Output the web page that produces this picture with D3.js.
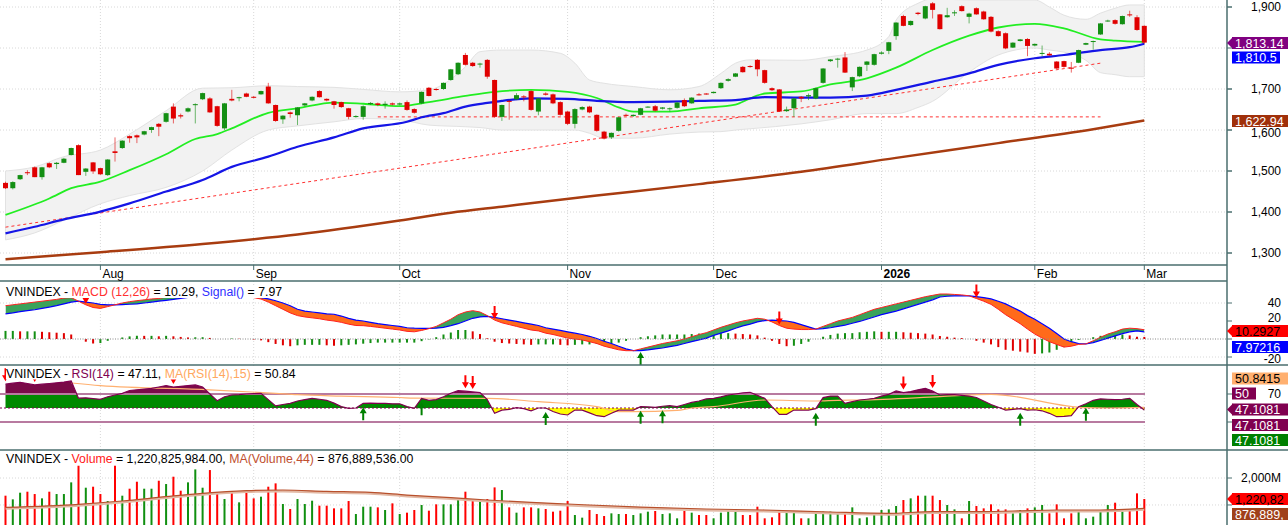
<!DOCTYPE html>
<html lang="en">
<head>
<meta charset="UTF-8">
<title>VNINDEX</title>
<style>
  body { margin: 0; background: #fff; }
  svg text { font-family: "Liberation Sans", Arial, sans-serif; }
</style>
</head>
<body>
<div id="chart"></div>
<script src="https://d3js.org/d3.v7.min.js"></script>
<script>
// ---- data (bar 0 = 15 Jul 2025 ... bar 156 = 2 Mar 2026) ----
const opens = [1471,1458,1480,1497,1509,1485,1519,1517,1520,1539,
 1563,1498,1521,1507,1490,1548,1556,1585,1587,1589,
 1600,1615,1620,1657,1636,1645,1661,1675,1677,1658,
 1604,1676,1678,1689,1681,1687,1706,1661,1626,1643,
 1636,1660,1672,1695,1676,1670,1668,1653,1632,1632,
 1663,1665,1661,1665,1662,1668,1651,1665,1703,1700,
 1700,1722,1736,1783,1764,1760,1771,1722,1632,1671,
 1675,1682,1695,1645,1689,1687,1668,1645,1615,1650,
 1657,1637,1596,1582,1598,1637,1634,1637,1656,1658,
 1652,1651,1654,1673,1665,1687,1689,1690,1702,1720,
 1730,1754,1756,1771,1746,1702,1699,1646,1653,1681,
 1682,1677,1715,1768,1772,1777,1704,1731,1759,1759,
 1786,1793,1829,1878,1856,1886,1872,1909,1882,1875,
 1885,1902,1876,1897,1889,1876,1841,1836,1801,1817,
 1822,1806,1786,1786,1767,1768,1752,1764,1808,1815,
 1833,1865,1868,1858,1882,1875,1854];
const highs = [1474,1475,1491,1502,1511,1510,1521,1522,1532,1557,
 1565,1507,1522,1508,1529,1582,1575,1587,1589,1598,
 1608,1617,1642,1665,1640,1655,1665,1691,1680,1659,
 1666,1698,1681,1691,1683,1696,1715,1662,1636,1645,
 1656,1666,1682,1697,1677,1671,1669,1654,1636,1660,
 1668,1667,1670,1667,1667,1672,1653,1694,1705,1702,
 1716,1749,1765,1788,1766,1764,1773,1723,1662,1673,
 1690,1685,1697,1678,1692,1689,1670,1647,1653,1658,
 1659,1638,1598,1594,1632,1640,1638,1654,1658,1661,
 1656,1655,1668,1677,1680,1690,1690,1694,1716,1726,
 1739,1756,1758,1773,1747,1704,1700,1657,1678,1683,
 1689,1703,1751,1773,1776,1790,1730,1755,1768,1786,
 1792,1815,1863,1881,1867,1888,1903,1912,1883,1898,
 1892,1904,1886,1899,1891,1878,1843,1838,1814,1822,
 1824,1811,1806,1790,1768,1769,1766,1796,1813,1818,
 1861,1869,1870,1879,1891,1880,1855];
const lows = [1456,1455,1478,1490,1485,1479,1507,1505,1519,1538,
 1490,1488,1493,1490,1488,1523,1554,1569,1568,1587,
 1593,1585,1618,1616,1628,1643,1616,1673,1642,1608,
 1600,1670,1670,1680,1677,1686,1664,1620,1615,1630,
 1612,1658,1670,1679,1670,1652,1654,1626,1630,1625,
 1661,1658,1652,1660,1660,1647,1640,1663,1682,1696,
 1698,1720,1734,1757,1754,1752,1725,1630,1622,1625,
 1673,1670,1647,1636,1684,1663,1635,1612,1604,1648,
 1641,1596,1577,1578,1596,1634,1632,1636,1655,1645,
 1650,1645,1652,1656,1664,1684,1686,1689,1700,1718,
 1729,1740,1752,1731,1713,1695,1644,1644,1632,1668,
 1673,1675,1713,1766,1752,1739,1695,1729,1744,1757,
 1784,1785,1820,1853,1854,1880,1870,1872,1845,1874,
 1878,1889,1860,1881,1869,1838,1828,1797,1800,1816,
 1780,1804,1780,1781,1749,1752,1740,1763,1807,1796,
 1832,1864,1857,1857,1876,1842,1810];
const closes = [1458,1473,1490,1495,1485,1509,1509,1520,1530,1556,
 1490,1506,1499,1492,1528,1544,1574,1580,1582,1597,
 1607,1608,1641,1628,1633,1653,1663,1690,1643,1610,
 1665,1672,1680,1681,1679,1695,1665,1622,1635,1639,
 1655,1665,1681,1680,1672,1661,1656,1632,1634,1658,
 1666,1661,1664,1662,1665,1649,1642,1693,1683,1698,
 1715,1748,1764,1759,1756,1762,1730,1632,1661,1669,
 1685,1680,1649,1677,1686,1665,1637,1615,1651,1656,
 1643,1598,1579,1593,1631,1636,1637,1653,1657,1647,
 1655,1653,1667,1658,1679,1685,1687,1693,1715,1724,
 1738,1741,1754,1748,1715,1697,1645,1650,1677,1677,
 1685,1702,1750,1772,1774,1740,1729,1754,1767,1785,
 1789,1814,1862,1854,1866,1883,1902,1893,1846,1880,
 1887,1890,1884,1882,1870,1840,1829,1799,1813,1821,
 1805,1810,1788,1782,1750,1754,1751,1795,1812,1817,
 1860,1867,1859,1878,1880,1844,1813.14];
// volume, millions of shares
const volumes = [1344,1208,1455,1492,1405,1245,1492,1405,1405,1838,
 2455,1640,1677,1405,1146,2455,1344,1603,1862,1603,
 1603,1899,1776,2048,1529,1838,2319,1640,2295,1467,
 1220,1492,1097,1467,1245,1307,1677,1801,1035,850,
 1220,1035,1158,973,973,874,874,1146,664,936,
 936,911,813,1060,664,714,813,998,788,1023,
 1023,1023,1220,1492,1146,1121,1220,1652,1554,911,
 714,911,911,874,850,751,788,1146,627,529,
 813,664,590,689,664,664,627,689,751,776,
 664,689,504,776,714,627,627,504,714,776,
 776,627,627,936,504,541,788,714,776,504,
 504,714,751,751,664,714,911,504,541,627,
 813,837,961,1183,1245,1344,1344,1344,1183,998,
 837,504,1146,961,874,1023,837,837,689,813,
 874,911,998,689,1023,504,689,788,504,566,
 788,998,1084,751,837,1430,1220.8];
const macd = [37,38,39,40,41,42,43,44,45.5,46,
 42,38,35,34,36,38,40,41.5,42.6,43.5,
 44.5,45,46.5,47,47.5,48,48.5,49,48.5,47.5,
 47.5,48,47.5,47,46,44.4,41,37,33,29,
 26,24.5,23.5,22.5,21,20,18.5,16.5,15,14.8,
 14,13,12,11,10,8.5,8,9.5,11.5,14,
 18,22,27,30,31.5,30,26,21,18,16,
 14,12,10,9,6.5,5,3,1,0,-1,
 -3,-5,-8,-10,-12,-13,-13,-11,-9,-7,
 -5,-3.5,-2,0,2.5,5,7,10,13,15.5,
 18,20,21.5,23,22,19,15,12,11,10.5,
 10.5,11,14,17,20,22,24,27,30,33,
 35,37,39,41,43,45,47,48.5,50,50,
 49.5,49,48,45,42,38.5,33,27,22,17,
 11,5.5,1,-3,-6,-9,-8,-6,-5.5,-2,
 2,5.5,8,11,12,11.5,10.29];
const signal = [28,29,30.5,31.5,32.5,34,35.5,37,39,41,
 42,41,40,38.5,38,38,38.3,38.6,39,40,
 41,42,43,44,45.2,46.3,46.6,47,47.3,47.5,
 47.5,47.5,47.2,47,46.6,45.9,44.5,42.5,40,37,
 33,31,30,29,28,27.5,25.5,23,21,20,
 18.5,17,16,15,14,12.5,12,11.9,11.9,12,
 13,14.8,17,20,23,24.5,25.2,24,22.5,21,
 19.5,18,16.5,15,12.5,11,9.5,8,6.5,5,
 3,0.5,-2.5,-5,-8,-11,-13,-13,-12,-11,
 -10,-8.5,-7,-5,-3,-1,1,4,6.5,9,
 12,14.5,16.5,19,20.5,21,20.5,20,18.5,16,
 13.5,11,11.5,12.5,14,15.5,17.5,19.5,22,24.5,
 27,29,31,33.5,36,38.5,41,43.5,46.7,47.5,
 48,48,48,47,46,44.5,42,39,35,31,
 26,22,17,12,6,0,-3,-5,-5.5,-4,
 -1.5,1,3.5,6,8,9,7.97];
const rsi = [84,85.5,86.7,85,83,84,85,86,87,88.6,
 64,64.5,63.5,62.4,66,68.6,71,75,76,77,
 78,80,82,80,81,82,83,80,70,60.4,
 66,68.6,69,70,70.5,71,62,53,55,56.7,
 60,62,63.8,62.5,61,57,52,49.6,50,56.7,
 57,56.7,56.5,56,56,52,49.6,63.8,61,62,
 66,71,74.7,74,73,72,62,42.4,47,48,
 50.4,49,46,50,50,45,41.4,40,47,47,
 43,39,37.6,42.4,47,47,47,51.9,51.5,51,
 52.5,53.3,51.9,55,58,60,63,63.8,66,68.6,
 70,71.5,72.4,68,63.8,51.9,41,41,47.1,47.1,
 47.1,49,64.8,67,67.1,56.7,59,61.4,62.5,63.8,
 67,69.5,74.3,72,73.5,76,78.1,74.3,68.6,69,
 69,68,67,65,60,55,51,47.1,48,49,
 47.1,47.5,46,42.4,37.6,38,39,51.9,56,61,
 62.9,62.5,62,62.5,63.8,55,47.11];

// smooth lines, read as [bar, value]
const ma20 = [[0,1393],[6,1433],[9,1458],[13,1474],[17,1502],[22,1541],[26,1578],[29,1590],[31,1604],[36,1642],[40,1653],[45,1667],[49,1664],[54,1658],[58,1668],[63,1683],[67,1693],[72,1698],[77,1693],[81,1678],[84,1655],[86,1645],[91,1645],[95,1653],[100,1662],[102,1677],[104,1689],[109,1694],[113,1711],[118,1726],[122,1752],[127,1795],[132,1830],[136,1850],[141,1859],[145,1848],[150,1821],[152,1818],[156,1815]];
const ma50 = [[0,1348],[4,1364],[8,1382],[13,1401],[17,1421],[22,1450],[27,1478],[31,1510],[36,1535],[40,1559],[45,1582],[49,1604],[55,1620],[57,1631],[60,1641],[63,1657],[66,1666],[68,1671],[72,1677],[77,1676],[81,1671],[86,1668],[91,1669],[95,1671],[100,1673],[104,1680],[109,1679],[113,1679],[118,1684],[122,1698],[127,1718],[132,1738],[136,1759],[141,1775],[145,1783],[150,1795],[154,1802],[156,1810.5]];
const ma200 = [[0,1285],[13,1302],[27,1322],[40,1345],[54,1379],[61,1398],[68,1413],[76,1430],[81,1440],[95,1468],[109,1498],[122,1532],[136,1568],[149,1602],[156,1622.94]];
const bbBars  = [0,4,8,13,17,22,27,31,36,40,45,49,54,58,63,65,68,72,76,78,80,82,86,91,95,98,100,102,109,113,118,121,122,125,127,132,136,141,143,145,148,150,152,154,156];
const bbUpper = [1500,1510,1535,1551,1590,1647,1702,1703,1708,1706,1704,1699,1693,1698,1754,1791,1795,1795,1787,1763,1722,1714,1706,1698,1706,1738,1763,1771,1770,1779,1795,1828,1868,1909,1920,1917,1917,1917,1900,1880,1870,1885,1897,1905,1905];
const bbLower = [1332,1349,1380,1420,1440,1460,1500,1551,1600,1610,1620,1628,1625,1612,1608,1606,1600,1600,1600,1600,1592,1580,1580,1590,1595,1596,1600,1603,1615,1625,1640,1640,1640,1655,1670,1741,1783,1800,1795,1790,1770,1740,1735,1730,1730];
const trendUp = [[0,1363],[150,1763]];
const trendFlat = [[51,1632],[150,1632]];
const rsiMa = [[9,85.7],[13,82],[28,76],[37,71],[40,69],[46,67],[54,65],[56,64],[66,63.8],[73,59],[81,52],[84,44.7],[86,44.7],[92,46.5],[94,50],[97,52],[104,61.4],[111,60],[114,61],[117,61.4],[128,66.2],[135,69.5],[148,50.4],[151,50],[156,50.84]];
const volMa = [[0,911],[10,1023],[16,1146],[22,1307],[27,1430],[33,1529],[38,1554],[44,1504],[50,1467],[55,1368],[61,1270],[66,1183],[72,1097],[77,1035],[87,920],[96,850],[104,813],[113,738],[121,689],[127,751],[133,751],[138,776],[144,813],[150,813],[156,876.9]];

const monthLabels = ["Aug","Sep","Oct","Nov","Dec","2026","Feb","Mar"];
const monthBars = [13,34,54,77,97,120,141,156];
const priceTicks = [1300,1400,1500,1600,1700,1800,1900];
const priceLabels = [1300,1400,1500,1600,1700,1900];
const macdSellBars = [11,67,106,133];
const macdBuyBars = [87];
const rsiSellBars = [0,4,23,63,64,123,127];
const rsiBuyBars = [49,57,74,87,90,111,139,148];

// ---- layout ----
const W = 1288, H = 525, plotR = 1227;
const svg = d3.select("#chart").append("svg").attr("width", W).attr("height", H);
const x = d3.scaleLinear().domain([0, 156]).range([5.5, 1144.3]);
const yP = d3.scaleLinear().domain([1300, 1900]).range([253, 7]);
const yM = d3.scaleLinear().domain([-20, 40]).range([357, 303]);
const yR = d3.scaleLinear().domain([30, 70]).range([422, 394]);
const yV = d3.scaleLinear().domain([405, 2000]).range([521, 478]);
const idx = d3.range(closes.length);
const green = "#138f13", red = "#e00000";

const defs = svg.append("defs");
function clip(id, y0, y1) {
  defs.append("clipPath").attr("id", id).append("rect")
    .attr("x", 0).attr("y", y0).attr("width", plotR).attr("height", y1 - y0);
  return svg.append("g").attr("clip-path", `url(#${id})`);
}

// gridlines
const grid = svg.append("g").attr("stroke", "#d8d8d8").attr("stroke-dasharray", "1,2");
priceTicks.forEach(v => grid.append("line").attr("x1", 0).attr("x2", plotR).attr("y1", yP(v)).attr("y2", yP(v)));
[40, -20].forEach(v => grid.append("line").attr("x1", 0).attr("x2", plotR).attr("y1", yM(v)).attr("y2", yM(v)));
[1000, 2000].forEach(v => grid.append("line").attr("x1", 0).attr("x2", plotR).attr("y1", yV(v)).attr("y2", yV(v)));
monthBars.forEach(b => {
  grid.append("line").attr("x1", x(b)).attr("x2", x(b)).attr("y1", 0).attr("y2", 265);
  grid.append("line").attr("x1", x(b)).attr("x2", x(b)).attr("y1", 281).attr("y2", H);
});

// ---- price panel ----
const gP = clip("cp", 0, 265);
const band = d3.area().x((d, i) => x(bbBars[i])).y0((d, i) => yP(bbLower[i])).y1(d => yP(d)).curve(d3.curveMonotoneX);
gP.append("path").datum(bbUpper).attr("d", band).attr("fill", "#f2f2f2").attr("stroke", "#e2e2e2");
const pline = d3.line().x(d => x(d[0])).y(d => yP(d[1])).curve(d3.curveMonotoneX);
gP.append("path").datum(trendUp).attr("d", pline).attr("fill", "none").attr("stroke", "#ff3030").attr("stroke-dasharray", "3,3");
gP.append("path").datum(trendFlat).attr("d", pline).attr("fill", "none").attr("stroke", "#ff3030").attr("stroke-dasharray", "3,3");
gP.append("path").datum(ma200).attr("d", pline).attr("fill", "none").attr("stroke", "#a83c10").attr("stroke-width", 2.5);
gP.append("path").datum(ma20).attr("d", pline).attr("fill", "none").attr("stroke", "#22ee22").attr("stroke-width", 1.8);
gP.append("path").datum(ma50).attr("d", pline).attr("fill", "none").attr("stroke", "#1515e6").attr("stroke-width", 2.2);

const candle = gP.selectAll(".c").data(idx).enter().append("g");
candle.append("line")
  .attr("x1", i => x(i)).attr("x2", i => x(i))
  .attr("y1", i => yP(highs[i])).attr("y2", i => yP(lows[i]))
  .attr("stroke", i => closes[i] >= opens[i] ? green : red).attr("stroke-opacity", 0.6);
candle.append("rect")
  .attr("x", i => x(i) - 2.5).attr("width", 5)
  .attr("y", i => yP(Math.max(opens[i], closes[i])))
  .attr("height", i => Math.max(1, Math.abs(yP(opens[i]) - yP(closes[i]))))
  .attr("fill", i => closes[i] >= opens[i] ? green : red);

// ---- MACD panel ----
const gM = clip("cm", 281, 365);
svg.append("line").attr("x1", 0).attr("x2", plotR).attr("y1", yM(0)).attr("y2", yM(0))
  .attr("stroke", "#888").attr("stroke-dasharray", "1,1.5");
const hist = idx.map(i => macd[i] - signal[i]);
gM.selectAll(".h").data(idx).enter().append("rect")
  .attr("x", i => x(i) - 1).attr("width", 2)
  .attr("y", i => Math.min(yM(0), yM(hist[i])))
  .attr("height", i => Math.abs(yM(hist[i]) - yM(0)))
  .attr("fill", i => (i > 0 && hist[i] < hist[i - 1]) ? red : green);
defs.append("clipPath").attr("id", "above").append("path")
  .datum(idx).attr("d", d3.area().x(i => x(i)).y0(281).y1(i => yM(signal[i])));
defs.append("clipPath").attr("id", "below").append("path")
  .datum(idx).attr("d", d3.area().x(i => x(i)).y0(365).y1(i => yM(signal[i])));
const macdBand = d3.area().x(i => x(i)).y0(i => yM(signal[i])).y1(i => yM(macd[i]));
gM.append("g").attr("clip-path", "url(#above)").append("path").datum(idx).attr("d", macdBand).attr("fill", "#3aa35a");
gM.append("g").attr("clip-path", "url(#below)").append("path").datum(idx).attr("d", macdBand).attr("fill", "#ff6a1a");
gM.append("path").datum(idx).attr("d", d3.line().x(i => x(i)).y(i => yM(signal[i]))).attr("fill", "none").attr("stroke", "#0000ff").attr("stroke-width", 1.2);
gM.append("path").datum(idx).attr("d", d3.line().x(i => x(i)).y(i => yM(macd[i]))).attr("fill", "none").attr("stroke", "#ff2020").attr("stroke-width", 1);

function arrow(g, cx, tip, dir, color) {
  const s = dir; // 1 = down, -1 = up
  g.append("path").attr("fill", color)
    .attr("d", `M${cx - 1},${tip - s * 13}L${cx + 1},${tip - s * 13}L${cx + 1},${tip - s * 6}L${cx + 3.5},${tip - s * 6}L${cx},${tip}L${cx - 3.5},${tip - s * 6}L${cx - 1},${tip - s * 6}Z`);
}
macdSellBars.forEach(b => arrow(gM, x(b), yM(macd[b]) - 1, 1, "#ff0000"));
macdBuyBars.forEach(b => arrow(gM, x(b), yM(macd[b]) + 3, -1, "#008000"));

// ---- RSI panel ----
const gR = clip("cr", 365, 450);
defs.append("clipPath").attr("id", "r70").append("rect").attr("x", 0).attr("y", 365).attr("width", plotR).attr("height", yR(70) - 365);
defs.append("clipPath").attr("id", "r50").append("rect").attr("x", 0).attr("y", yR(70)).attr("width", plotR).attr("height", yR(50) - yR(70));
defs.append("clipPath").attr("id", "rlo").append("rect").attr("x", 0).attr("y", yR(50)).attr("width", plotR).attr("height", 450 - yR(50));
const rsiArea = d3.area().x(i => x(i)).y0(yR(50)).y1(i => yR(rsi[i]));
[["r70", "#7a0a48"], ["r50", "#008a00"], ["rlo", "#ffff00"]].forEach(([c, f]) =>
  gR.append("g").attr("clip-path", `url(#${c})`).append("path").datum(idx).attr("d", rsiArea).attr("fill", f));
[70, 30].forEach(v => gR.append("line").attr("x1", 0).attr("x2", 1145).attr("y1", yR(v)).attr("y2", yR(v)).attr("stroke", "#b87aa0").attr("stroke-width", 2));
gR.append("line").attr("x1", 0).attr("x2", 1145).attr("y1", yR(50)).attr("y2", yR(50)).attr("stroke", "#800050").attr("stroke-dasharray", "2,2");
gR.append("path").datum(rsiMa).attr("d", d3.line().x(d => x(d[0])).y(d => yR(d[1])).curve(d3.curveMonotoneX))
  .attr("fill", "none").attr("stroke", "#ffb070").attr("stroke-width", 1.2);
gR.append("path").datum(idx).attr("d", d3.line().x(i => x(i)).y(i => yR(rsi[i]))).attr("fill", "none").attr("stroke", "#800050").attr("stroke-width", 1.2);
rsiSellBars.forEach(b => arrow(gR, x(b), yR(rsi[b]) - 3, 1, "#ff0000"));
rsiBuyBars.forEach(b => arrow(gR, x(b), yR(rsi[b]) + 4, -1, "#008000"));

// ---- volume panel ----
const gV = clip("cv", 450, 525);
gV.selectAll(".v").data(idx).enter().append("rect")
  .attr("x", i => x(i) - 1).attr("width", 2)
  .attr("y", i => yV(volumes[i])).attr("height", i => 521 - yV(volumes[i]) + 4)
  .attr("fill", i => closes[i] >= opens[i] ? "#109010" : "#ff0000");
const vline = d3.line().x(d => x(d[0])).y(d => yV(d[1])).curve(d3.curveMonotoneX);
gV.append("path").datum(volMa).attr("d", vline).attr("transform", "translate(0,1.2)")
  .attr("fill", "none").attr("stroke", "#e2b8a4").attr("stroke-width", 2.4);
gV.append("path").datum(volMa).attr("d", vline)
  .attr("fill", "none").attr("stroke", "#b8502c").attr("stroke-width", 1.2);

// ---- titles ----
function title(y, parts) {
  const g = svg.append("g");
  const r = g.append("rect").attr("fill", "#fff");
  const t = g.append("text").attr("x", 6).attr("y", y).style("font-size", "12.3px");
  parts.forEach(([s, c]) => t.append("tspan").attr("fill", c).text(s));
  const bb = t.node().getBBox();
  r.attr("x", bb.x).attr("y", bb.y).attr("width", bb.width + 2).attr("height", bb.height - 1);
}
title(296, [["VNINDEX - ", "#000"], ["MACD (12,26)", "#ff3030"], [" = 10.29, ", "#000"], ["Signal()", "#3030ff"], [" = 7.97", "#000"]]);
title(377.5, [["VNINDEX - ", "#000"], ["RSI(14)", "#800050"], [" = 47.11, ", "#000"], ["MA(RSI(14),15)", "#ffa860"], [" = 50.84", "#000"]]);
title(462.5, [["VNINDEX - ", "#000"], ["Volume", "#ff2020"], [" = 1,220,825,984.00, ", "#000"], ["MA(Volume,44)", "#c05030"], [" = 876,889,536.00", "#000"]]);

// ---- frame ----
const frame = svg.append("g").attr("stroke", "#4a6e6e");
frame.append("line").attr("x1", plotR).attr("x2", plotR).attr("y1", 0).attr("y2", H).attr("stroke-width", 1.5);
frame.append("line").attr("x1", 0).attr("x2", plotR).attr("y1", 265).attr("y2", 265).attr("stroke-width", 1.5);
frame.append("line").attr("x1", 0).attr("x2", plotR).attr("y1", 281).attr("y2", 281).attr("stroke-width", 1.5);
frame.append("line").attr("x1", 0).attr("x2", W).attr("y1", 365).attr("y2", 365).attr("stroke-width", 1.5);
frame.append("line").attr("x1", 0).attr("x2", W).attr("y1", 450).attr("y2", 450).attr("stroke-width", 1.5);

// month axis
const ax = svg.append("g");
monthBars.forEach((b, k) => {
  ax.append("line").attr("x1", x(b)).attr("x2", x(b)).attr("y1", 265).attr("y2", 270).attr("stroke", "#4a6e6e");
  ax.append("text").attr("x", x(b) + 2).attr("y", 278).style("font-size", "12px")
    .style("font-weight", monthLabels[k] === "2026" ? "bold" : "normal").text(monthLabels[k]);
});

// right axis labels (the ones hidden behind value tags are not drawn)
function ytick(y) {
  svg.append("line").attr("x1", plotR).attr("x2", plotR + 5).attr("y1", y).attr("y2", y).attr("stroke", "#4a6e6e");
}
function ylab(y, s, dy) {
  ytick(y);
  svg.append("text").attr("x", 1281).attr("y", y + 4 + (dy || 0)).attr("text-anchor", "end").style("font-size", "12px").text(s);
}
priceTicks.forEach(v => ytick(yP(v)));
priceLabels.forEach(v => ylab(yP(v), d3.format(",")(v), v === 1600 ? 3 : 0));
ylab(yM(40), "40"); ylab(yM(20), "20", -3); ylab(yM(-20), "-20", 2);
ytick(yM(0)); ytick(yR(30)); ytick(yV(1000));
ylab(yR(70), "70");
ylab(yV(2000), "2,000M");

function tag(yc, s, fill, tc, pointer, w) {
  const g = svg.append("g");
  const h = 12;
  g.append("rect").attr("x", 1232).attr("y", yc - h / 2).attr("width", w || 60).attr("height", h).attr("fill", fill);
  if (pointer) g.append("path").attr("d", `M${plotR},${yc}L1233,${yc - 6}L1233,${yc + 6}Z`).attr("fill", fill);
  g.append("text").attr("x", 1235).attr("y", yc + 4.5).style("font-size", "12.5px").attr("fill", tc).text(s);
}
tag(43, "1,813.14", "#800080", "#fff", true);
tag(57.5, "1,810.5", "#0000ff", "#fff", false, 48);
tag(121, "1,622.94", "#a0300a", "#fff", false);
tag(331, "10.2927", "#ff0000", "#000", true);
tag(347, "7.97216", "#0000ff", "#fff", false);
tag(378.5, "50.8415", "#ffb070", "#000", false);
tag(393.5, "50", "#800050", "#fff", false, 24);
tag(409.5, "47.1081", "#800050", "#fff", true);
tag(425, "47.1081", "#800050", "#fff", false);
tag(440, "47.1081", "#008000", "#fff", false);
tag(499, "1,220,82", "#ff0000", "#000", true);
tag(514, "876,889,", "#a0401a", "#fff", false);
</script>
</body>
</html>
